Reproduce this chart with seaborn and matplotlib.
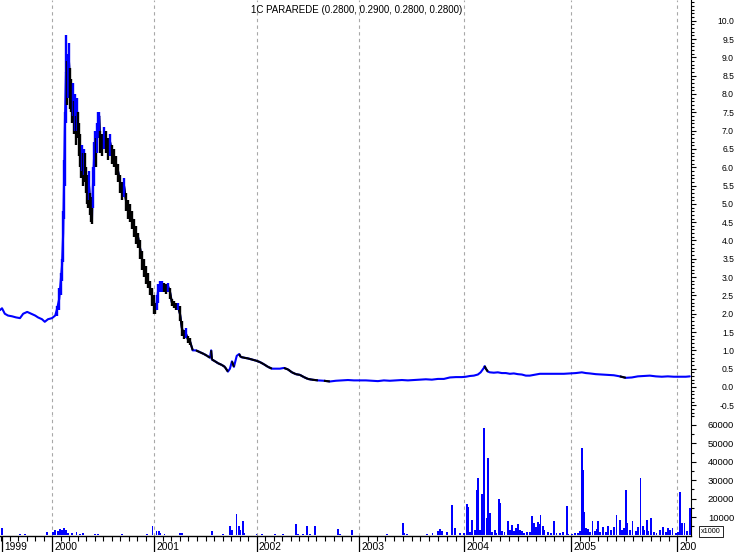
import numpy as np
import pandas as pd
import matplotlib
matplotlib.use("Agg")
import matplotlib.pyplot as plt
import matplotlib.transforms as mtransforms
from matplotlib.ticker import MultipleLocator, FixedLocator, NullFormatter
import seaborn as sns

sns.set_theme(style="white")
plt.rcParams['font.family'] = ['Liberation Sans', 'DejaVu Sans']

TITLE = "1C PARAREDE (0.2800, 0.2900, 0.2800, 0.2800)"

# trading-session index at which each labelled year starts (1999 = first bar shown)
year_labels = ["1999", "2000", "2001", "2002", "2003", "2004", "2005", "2006"]
year_start = [5, 131, 386, 642, 898, 1161, 1429, 1694]
sessions_in_year = [255, 255, 256, 256, 263, 268, 265, 255]

# closing prices (session index, price)
close_session = [0, 5, 12, 20, 30, 40, 50, 58, 68, 78, 88, 95, 105, 112, 120, 130, 138,
                 142, 148, 152, 155, 158, 160, 162, 165, 168, 170, 172, 175, 178, 180, 182,
                 185, 188, 190, 192, 195, 198, 200, 202, 205, 208, 210, 212, 215, 218, 220,
                 222, 225, 228, 230, 232, 235, 238, 240, 242, 245, 248, 250, 255, 260, 265,
                 270, 275, 280, 285, 290, 295, 300, 305, 310, 315, 320, 325, 330, 335, 340,
                 345, 350, 355, 360, 365, 370, 375, 380, 385, 388, 392, 395, 400, 405, 410,
                 415, 420, 425, 430, 435, 440, 445, 450, 455, 460, 465, 470, 475,
                 482, 490, 500, 510, 518, 525, 528, 530, 538, 545, 555, 562, 570, 575, 580,
                 585, 592, 598, 602, 610, 620, 630, 640, 650, 660, 670, 680, 690, 700, 710,
                 720, 730, 740, 750, 760, 770, 780, 795, 810, 825, 840, 855, 870, 885, 900,
                 915, 930, 945, 960, 975, 990, 1005, 1020, 1035, 1050, 1065, 1080, 1095,
                 1110, 1125, 1140, 1155, 1165, 1175, 1185, 1195, 1202, 1210, 1212, 1215,
                 1220, 1225, 1235, 1245, 1255, 1265, 1275, 1285, 1295, 1305, 1315, 1325,
                 1335, 1350, 1365, 1380, 1395, 1410, 1425, 1440, 1455, 1465, 1475, 1490,
                 1505, 1520, 1535, 1550, 1565, 1580, 1595, 1610, 1625, 1640, 1655, 1670,
                 1685, 1700, 1715, 1725]
close_price = [2.10, 2.15, 2.00, 1.95, 1.93, 1.90, 1.88, 2.00, 2.05, 2.00, 1.95, 1.90, 1.85,
               1.78, 1.85, 1.88, 1.95,
               2.10, 2.40, 2.90, 3.30, 4.20, 5.50, 7.00, 8.60, 8.00, 8.50, 9.00, 8.20, 8.00,
               7.60, 7.90, 7.30, 7.50, 7.00, 7.60, 7.20, 6.80, 6.50, 6.10, 6.30, 5.90, 6.20,
               6.00, 5.70, 5.40, 5.20, 5.60, 5.00, 4.80, 4.60, 5.40, 6.20, 6.60, 6.40, 6.90,
               7.20, 7.40, 6.80, 6.60, 6.90, 6.80, 6.50, 6.70, 6.40, 6.30, 6.10, 5.90, 5.60,
               5.40, 5.50, 5.10, 4.90, 4.80, 4.60, 4.40, 4.20, 4.10, 3.80, 3.50, 3.30, 3.10,
               2.90, 2.70, 2.50, 2.30, 2.10, 2.30, 2.60, 2.75, 2.80, 2.75, 2.70, 2.75, 2.60,
               2.30, 2.25, 2.20, 2.20, 2.00, 1.60, 1.40, 1.45, 1.30, 1.25,
               1.00, 1.00, 0.95, 0.90, 0.85, 0.80, 1.00, 0.75, 0.70, 0.65, 0.60, 0.55, 0.42,
               0.50, 0.70, 0.55, 0.85, 0.90, 0.82, 0.80, 0.78, 0.75, 0.72, 0.68, 0.62, 0.55,
               0.50, 0.50, 0.50, 0.52, 0.48, 0.40, 0.35, 0.33, 0.27, 0.22, 0.20, 0.18, 0.17,
               0.15, 0.17, 0.18, 0.19, 0.18, 0.18, 0.18, 0.17, 0.16, 0.18, 0.17, 0.18, 0.19,
               0.18, 0.19, 0.20, 0.21, 0.20, 0.22, 0.22, 0.26, 0.27, 0.27, 0.28, 0.30, 0.31,
               0.34, 0.40, 0.52, 0.57, 0.50, 0.42, 0.40, 0.39, 0.40, 0.38, 0.38, 0.36, 0.37,
               0.35, 0.34, 0.31, 0.31, 0.33, 0.36, 0.36, 0.36, 0.36, 0.36, 0.37, 0.38, 0.40,
               0.38, 0.37, 0.35, 0.34, 0.33, 0.32, 0.29, 0.25, 0.26, 0.29, 0.30, 0.31, 0.29,
               0.28, 0.29, 0.28, 0.28, 0.28, 0.29]

# daily ranges in the volatile 2000 period (session index, low, high)
range_session = close_session[17:105]
range_low = [1.95, 2.10, 2.50, 2.90, 3.40, 4.60, 5.50, 7.20, 7.70, 7.90, 8.10, 7.60, 7.50,
             7.20, 7.40, 6.90, 7.00, 6.60, 7.00, 6.80, 6.30, 6.00, 5.70, 5.90, 5.50, 5.80,
             5.60, 5.30, 5.00, 4.90, 5.10, 4.70, 4.50, 4.45, 4.90, 5.50, 6.10, 6.00, 6.40,
             6.80, 6.90, 6.40, 6.30, 6.50, 6.40, 6.20, 6.30, 6.10, 6.00, 5.80, 5.60, 5.30,
             5.10, 5.20, 4.80, 4.60, 4.50, 4.30, 4.10, 3.90, 3.80, 3.50, 3.20, 3.00, 2.80,
             2.70, 2.50, 2.20, 2.00, 2.00, 2.10, 2.30, 2.60, 2.60, 2.60, 2.55, 2.60, 2.40,
             2.20, 2.15, 2.10, 2.10, 1.80, 1.40, 1.30, 1.35, 1.20, 1.15]
range_high = [2.20, 2.70, 3.10, 3.50, 4.80, 6.20, 7.50, 9.60, 8.90, 9.10, 9.40, 8.70, 8.40,
              8.00, 8.30, 7.80, 8.00, 7.40, 7.90, 7.50, 7.20, 6.90, 6.60, 6.60, 6.40, 6.50,
              6.40, 6.00, 5.80, 5.60, 5.90, 5.30, 5.20, 5.00, 6.00, 6.70, 7.00, 6.80, 7.20,
              7.50, 7.50, 7.00, 6.90, 7.10, 7.00, 6.80, 6.90, 6.60, 6.50, 6.30, 6.10, 5.80,
              5.60, 5.70, 5.30, 5.10, 5.00, 4.80, 4.60, 4.40, 4.20, 4.00, 3.70, 3.50, 3.30,
              3.10, 2.90, 2.70, 2.50, 2.30, 2.50, 2.80, 2.90, 2.90, 2.85, 2.80, 2.85, 2.70,
              2.40, 2.35, 2.30, 2.30, 2.20, 1.80, 1.55, 1.60, 1.40, 1.35]

# volume (session index, volume)
vol_session = [5, 50, 62, 118, 132, 138, 145, 150, 155, 160, 165, 170, 180, 192, 200, 208,
               238, 245, 275, 305, 338, 368, 382, 392, 398, 402, 412, 430, 450, 455, 475,
               500, 530, 558, 575, 580, 592, 598, 600, 608, 612, 642, 655, 688, 708, 720,
               740, 745, 758, 762, 768, 775, 788, 820, 845, 850, 868, 880, 892, 968, 1008,
               1012, 1018, 1068, 1082, 1095, 1100, 1105, 1118, 1130, 1132, 1138, 1150,
               1160, 1168, 1170, 1175, 1180, 1188, 1192, 1195, 1200, 1205, 1208, 1210,
               1212, 1218, 1220, 1225, 1230, 1238, 1242, 1248, 1250, 1255, 1262, 1270,
               1275, 1280, 1285, 1290, 1295, 1300, 1305, 1310, 1318, 1325, 1330, 1335,
               1340, 1345, 1348, 1352, 1358, 1362, 1370, 1378, 1385, 1392, 1400, 1408,
               1418, 1422, 1430, 1438, 1445, 1450, 1455, 1458, 1460, 1465, 1468, 1470,
               1475, 1482, 1488, 1492, 1495, 1500, 1508, 1515, 1520, 1528, 1535, 1542,
               1550, 1555, 1560, 1565, 1568, 1575, 1582, 1590, 1595, 1602, 1608, 1612,
               1618, 1622, 1628, 1635, 1642, 1650, 1658, 1665, 1670, 1675, 1682, 1690,
               1695, 1700, 1705, 1712, 1718, 1725]
vol_value = [4000, 700, 700, 1700, 2000, 2800, 2500, 3500, 2800, 4000, 3000, 1500, 1200,
             1800, 1000, 1300, 600, 600, 500, 900, 500, 600, 4900, 2200, 2200, 1200, 600,
             500, 1600, 1200, 500, 500, 2200, 800, 4900, 2700, 11800, 5300, 3100, 7600,
             1500, 1000, 700, 800, 600, 500, 6300, 1000, 700, 500, 4900, 1000, 5300, 500,
             3600, 800, 500, 3100, 500, 700, 6700, 1500, 600, 1000, 1200, 2500, 3500, 2200,
             2000, 16700, 15800, 3800, 1300, 1300, 17200, 15400, 2000, 8500, 3000, 24800,
             31200, 3000, 22600, 21000, 58300, 56500, 9400, 42000, 12100, 2000, 2800, 1500,
             19700, 17500, 2500, 2000, 8100, 3000, 5500, 2500, 4000, 6000, 3000, 2500,
             1500, 2000, 1800, 10700, 6500, 4500, 7500, 6000, 11300, 5000, 3000, 2000,
             1500, 7600, 1500, 1200, 2000, 16100, 1000, 800, 1200, 1500, 2500, 47500,
             35700, 13000, 4000, 2500, 3500, 2000, 7600, 2500, 3300, 7600, 2000, 4500,
             2000, 5000, 3000, 4500, 11200, 8500, 3000, 4000, 24500, 7000, 3000, 7600,
             2500, 4500, 31000, 5000, 3000, 8500, 2500, 9400, 2000, 1500, 3000, 4500,
             2000, 4000, 3000, 4000, 1500, 2000, 23500, 7000, 6500, 2500, 15000]

BLUE = "#0000ff"
GRID = "#a8a8a8"
XMAX = 1728

fig = plt.figure(figsize=(7.38, 5.52), dpi=100)
fig.patch.set_facecolor("white")
ax = fig.add_axes([0, 1 - 415 / 552, 691 / 738, 415 / 552])
axv = fig.add_axes([0, 1 - 536 / 552, 691 / 738, 121 / 552])

for a in (ax, axv):
    a.set_facecolor("white")
    a.set_xlim(0, XMAX)
    for s in ("top", "left", "bottom"):
        a.spines[s].set_visible(False)
    a.spines["right"].set_color("black")
    a.spines["right"].set_linewidth(0.8)
    a.yaxis.tick_right()
    a.grid(False)
    for ys in year_start[1:]:
        a.axvline(ys, color=GRID, lw=0.8, ls=(0, (3, 3)), zorder=0)

# ---- price panel
df = pd.DataFrame({"session": close_session, "close": close_price})
sns.lineplot(data=df, x="session", y="close", ax=ax, color=BLUE, lw=1.5,
             estimator=None, sort=False, zorder=3)
cs = np.array(close_session)
cp = np.array(close_price)
for i in range(1, len(cs)):
    drop = (cp[i - 1] - cp[i]) / cp[i - 1]
    if (drop > 0 and 140 <= cs[i] <= 800) or drop > 0.1:
        ax.plot(cs[i - 1:i + 1], cp[i - 1:i + 1], color="black", lw=1.5, zorder=3,
                solid_capstyle="butt")
rc = np.array(close_price[17:105])
rprev = np.array(close_price[16:104])
rcols = np.where(rc >= rprev, BLUE, "black")
ax.vlines(range_session, range_low, range_high, colors=rcols, lw=1.7, zorder=4)

ax.set_ylim(-0.765, 10.566)
ax.yaxis.set_major_locator(FixedLocator(np.arange(-0.5, 10.01, 0.5)))
ax.yaxis.set_minor_locator(MultipleLocator(0.1))
ax.set_yticklabels([f"{v:.1f}" for v in np.arange(-0.5, 10.01, 0.5)])
ax.set_xticks([])
ax.set_xlabel("")
ax.set_ylabel("")

# ---- volume panel
axv.bar(vol_session, vol_value, width=3.6, color=BLUE, linewidth=0, zorder=3)
axv.set_ylim(-300, 65400)
axv.yaxis.set_major_locator(FixedLocator([10000, 20000, 30000, 40000, 50000, 60000]))
axv.yaxis.set_minor_locator(FixedLocator([5000, 15000, 25000, 35000, 45000, 55000, 65000]))
axv.set_yticklabels(["10000", "20000", "30000", "40000", "50000", "60000"])
axv.spines["bottom"].set_visible(True)
axv.spines["bottom"].set_color("black")
axv.spines["bottom"].set_linewidth(1.0)

for a, fs in ((ax, 6.2), (axv, 6.8)):
    a.tick_params(axis="y", which="major", direction="out", length=3.4, width=0.8,
                  color="black", pad=27.6, labelsize=fs, labelcolor="black")
    a.tick_params(axis="y", which="minor", direction="out", length=1.9, width=0.8,
                  color="black")
    for t in a.get_yticklabels():
        t.set_horizontalalignment("right")

# x ticks: year boundaries (long) and month starts (short)
month_ticks = []
for ys, n in zip([year_start[1] - sessions_in_year[0]] + year_start[1:], sessions_in_year):
    for k in range(12):
        m = ys + k * n / 12.0
        if 0 < m < XMAX:
            month_ticks.append(m)
axv.xaxis.set_major_locator(FixedLocator(year_start))
axv.xaxis.set_minor_locator(FixedLocator(month_ticks))
axv.xaxis.set_major_formatter(NullFormatter())
axv.tick_params(axis="x", which="major", direction="out", length=11.5, width=0.9,
                color="black", bottom=True)
axv.tick_params(axis="x", which="minor", direction="out", length=3.4, width=0.8,
                color="black", bottom=True)
axv.set_xlabel("")
axv.set_ylabel("")

trans = mtransforms.blended_transform_factory(axv.transData, axv.transAxes)
trans = mtransforms.offset_copy(trans, fig=fig, x=1.5, y=0, units="points")
clip = mtransforms.TransformedBbox(mtransforms.Bbox([[0, 0], [696 / 738, 1]]),
                                   fig.transFigure)
for lab, ys in zip(year_labels, year_start):
    t = axv.text(ys, -0.095, lab, transform=trans, ha="left", va="center",
                 fontsize=7.4, color="black")
    t.set_clip_on(True)
    t.set_clip_box(clip)

fig.text(701 / 738, 1 - 531.5 / 552, "x1000", fontsize=5.2, ha="left", va="center",
         color="black",
         bbox=dict(boxstyle="square,pad=0.3", fc="white", ec="black", lw=0.6))

fig.text(357 / 738, 1 - 10 / 552, TITLE, fontsize=7.0, ha="center", va="center",
         color="black")

fig.savefig("out.png", dpi=100, facecolor="white")
